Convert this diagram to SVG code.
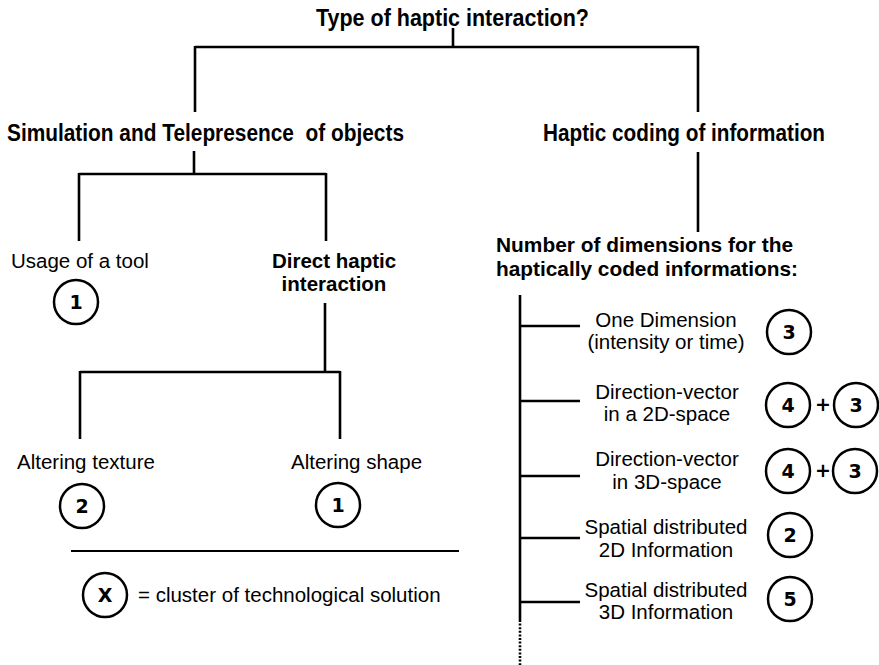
<svg xmlns="http://www.w3.org/2000/svg" width="879" height="665" viewBox="0 0 879 665">
<style>
.t{font-family:"Liberation Sans",Arial,sans-serif;font-size:20.5px;fill:#000}
.b{font-weight:bold}
.c{text-anchor:middle}
.h{font-size:23px;white-space:pre}
.ln{stroke:#000;stroke-width:2.6;fill:none;stroke-linecap:butt}
.circ{stroke:#000;stroke-width:2.5;fill:#fff}
.num{font-family:"DejaVu Sans","Liberation Sans",sans-serif;font-weight:bold;font-size:19px;text-anchor:middle;fill:#000}
</style>
<rect width="879" height="665" fill="#fff"/>
<g id="connectors">
<path class="ln" d="M453 28V47M195 47H698M195 46V112M698 46V112"/>
<path class="ln" d="M194 151V174M79 174H326M79 173V241M326 173V241"/>
<path class="ln" d="M698 152V232"/>
<path class="ln" d="M325 303V372M80 372H340M80 371V439M340 371V439"/>
<path class="ln" d="M520 295V620"/>
<path class="ln" d="M520 620V665" stroke-dasharray="2 1.6"/>
<path class="ln" d="M520 326H580M520 401H580M520 476H580M520 538H580M520 602H580"/>
<path stroke="#000" stroke-width="1.8" d="M71 551H459"/>
</g>
<g id="root"><text class="t b h" x="316" y="26" textLength="273" lengthAdjust="spacingAndGlyphs">Type of haptic interaction?</text></g>
<g id="simulation"><text class="t b h" x="7" y="141" textLength="397" lengthAdjust="spacingAndGlyphs">Simulation and Telepresence  of objects</text></g>
<g id="coding"><text class="t b h" x="543" y="141" textLength="282" lengthAdjust="spacingAndGlyphs">Haptic coding of information</text></g>
<g id="tool"><text class="t" x="11" y="268">Usage of a tool</text>
<circle class="circ" cx="76" cy="302" r="22"/><text class="num" x="76" y="309">1</text></g>
<g id="direct"><text class="t b c" x="334" y="268">Direct haptic</text><text class="t b c" x="334" y="291">interaction</text></g>
<g id="texture"><text class="t" x="17" y="469">Altering texture</text>
<circle class="circ" cx="82" cy="506" r="22"/><text class="num" x="82" y="513">2</text></g>
<g id="shape"><text class="t" x="291" y="469">Altering shape</text>
<circle class="circ" cx="338" cy="505" r="22"/><text class="num" x="338" y="512">1</text></g>
<g id="legend"><circle class="circ" cx="105" cy="595" r="22"/><text class="num" x="105" y="602">X</text>
<text class="t" x="138" y="602">= cluster of technological solution</text></g>
<g id="dimensions"><text class="t b" x="496" y="252" textLength="297" lengthAdjust="spacingAndGlyphs">Number of dimensions for the</text><text class="t b" x="496" y="276" textLength="302" lengthAdjust="spacingAndGlyphs">haptically coded informations:</text></g>
<g id="dim1"><text class="t c" x="666" y="327">One Dimension</text><text class="t c" x="666" y="349">(intensity or time)</text>
<circle class="circ" cx="789" cy="332" r="22"/><text class="num" x="789" y="339">3</text></g>
<g id="dim2"><text class="t c" x="667" y="399">Direction-vector</text><text class="t c" x="667" y="421">in a 2D-space</text>
<circle class="circ" cx="788" cy="405" r="22"/><text class="num" x="788" y="412">4</text>
<text class="num" x="823" y="411" font-size="17">+</text>
<circle class="circ" cx="856" cy="405" r="22"/><text class="num" x="856" y="412">3</text></g>
<g id="dim3"><text class="t c" x="667" y="466">Direction-vector</text><text class="t c" x="667" y="489">in 3D-space</text>
<circle class="circ" cx="788" cy="471" r="22"/><text class="num" x="788" y="478">4</text>
<text class="num" x="823" y="477" font-size="17">+</text>
<circle class="circ" cx="855" cy="471" r="22"/><text class="num" x="855" y="478">3</text></g>
<g id="dim4"><text class="t c" x="666" y="534">Spatial distributed</text><text class="t c" x="666" y="557">2D Information</text>
<circle class="circ" cx="790" cy="535" r="22"/><text class="num" x="790" y="542">2</text></g>
<g id="dim5"><text class="t c" x="666" y="597">Spatial distributed</text><text class="t c" x="666" y="619">3D Information</text>
<circle class="circ" cx="790" cy="599" r="22"/><text class="num" x="790" y="606">5</text></g>
</svg>
